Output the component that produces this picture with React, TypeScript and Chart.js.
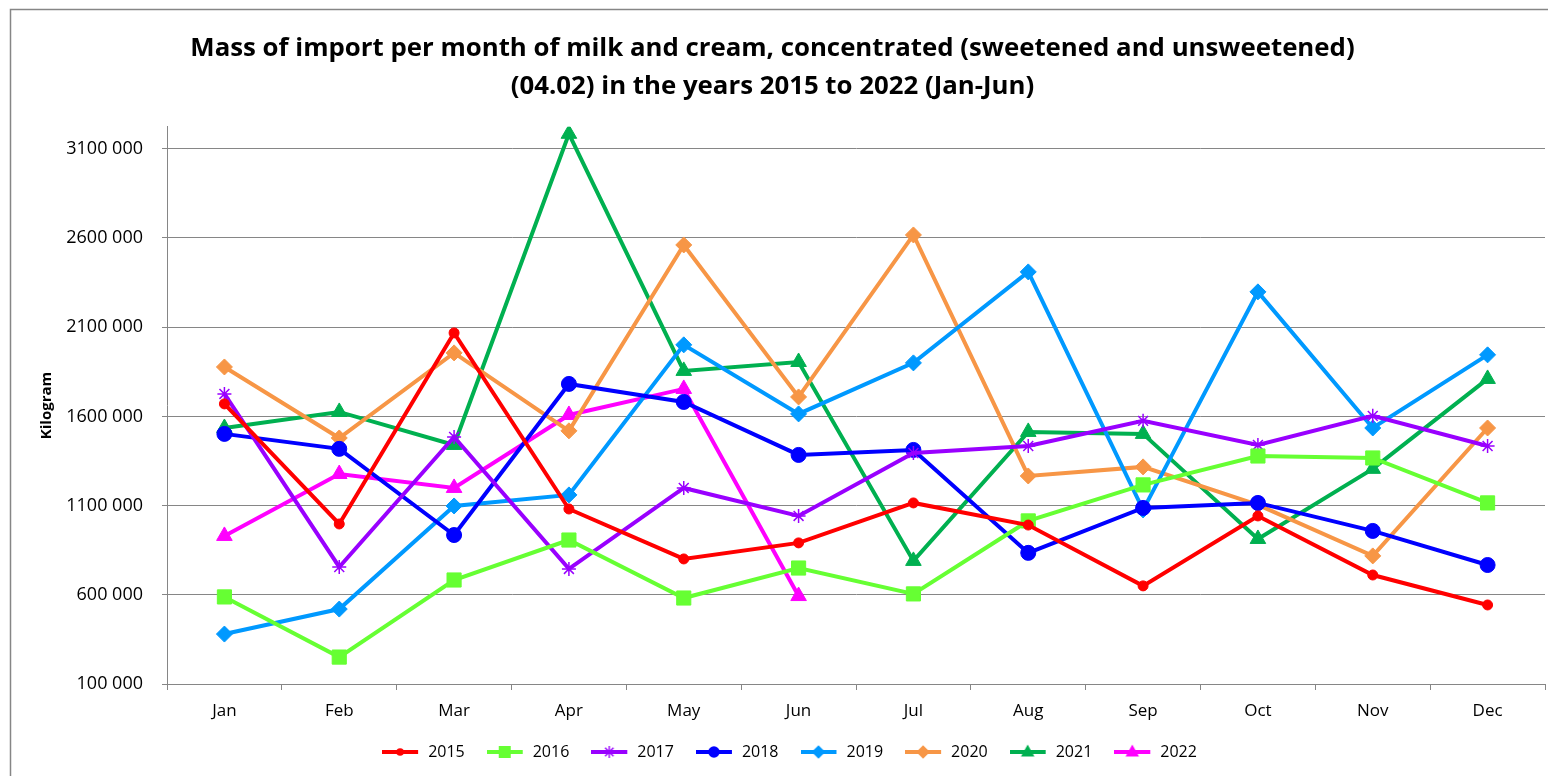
import React, { useEffect, useRef } from "react";
import { Chart, registerables } from "chart.js";

Chart.register(...registerables);

const months = ["Jan", "Feb", "Mar", "Apr", "May", "Jun", "Jul", "Aug", "Sep", "Oct", "Nov", "Dec"];
const yTicks = [100000, 600000, 1100000, 1600000, 2100000, 2600000, 3100000];
const titleLines = [
  "Mass of import per month of milk and cream, concentrated (sweetened and unsweetened)",
  "(04.02) in the years 2015 to 2022 (Jan-Jun)",
];
const yTitle = "Kilogram";

const s2015 = [1670000, 997000, 2068000, 1081000, 801000, 891000, 1115000, 991000, 650000, 1042000, 711000, 543000];
const s2016 = [588000, 251000, 683000, 907000, 582000, 750000, 605000, 1014000, 1216000, 1378000, 1367000, 1115000];
const s2017 = [1726000, 756000, 1485000, 745000, 1199000, 1042000, 1395000, 1434000, 1575000, 1440000, 1603000, 1434000];
const s2018 = [1502000, 1418000, 935000, 1782000, 1681000, 1384000, 1412000, 835000, 1087000, 1115000, 958000, 767000];
const s2019 = [380000, 520000, 1098000, 1160000, 2001000, 1614000, 1900000, 2410000, 1076000, 2298000, 1535000, 1945000];
const s2020 = [1877000, 1479000, 1956000, 1519000, 2561000, 1709000, 2617000, 1266000, 1317000, 1104000, 818000, 1535000];
const s2021 = [1535000, 1625000, 1440000, 3184000, 1855000, 1905000, 790000, 1513000, 1502000, 913000, 1306000, 1810000];
const s2022 = [930000, 1277000, 1199000, 1608000, 1754000, 593000];

const seriesNames = ["2015", "2016", "2017", "2018", "2019", "2020", "2021", "2022"];
const seriesData = [s2015, s2016, s2017, s2018, s2019, s2020, s2021, s2022];
const seriesColors = ["#FF0000", "#66FF33", "#9900FF", "#0000FF", "#0099FF", "#F79646", "#00B050", "#FF00FF"];
const seriesStyles = ["circle", "rect", "star", "circle", "rectRot", "rectRot", "triangle", "triangle"];
const seriesRadius = [5, 10, 7, 7.5, 8, 8, 9, 9];

const ICON_W = 38;

function makeIcon(color: string, style: string, radius: number): HTMLCanvasElement {
  const c = document.createElement("canvas");
  c.width = ICON_W;
  c.height = 18;
  const ctx = c.getContext("2d")!;
  ctx.strokeStyle = color;
  ctx.fillStyle = color;
  ctx.lineWidth = 4;
  ctx.beginPath();
  ctx.moveTo(0, 9);
  ctx.lineTo(ICON_W - 2, 9);
  ctx.stroke();
  const r = Math.min(radius * 0.85, 7.5);
  ctx.beginPath();
  const x = (ICON_W - 2) / 2, y = 9;
  if (style === "circle") {
    ctx.arc(x, y, r * 0.9, 0, Math.PI * 2);
    ctx.fill();
  } else if (style === "rect") {
    const s = r * 0.8;
    ctx.fillRect(x - s, y - s, 2 * s, 2 * s);
  } else if (style === "rectRot") {
    ctx.moveTo(x, y - r);
    ctx.lineTo(x + r, y);
    ctx.lineTo(x, y + r);
    ctx.lineTo(x - r, y);
    ctx.closePath();
    ctx.fill();
  } else if (style === "triangle") {
    ctx.moveTo(x, y - r);
    ctx.lineTo(x + r * 0.9, y + r * 0.6);
    ctx.lineTo(x - r * 0.9, y + r * 0.6);
    ctx.closePath();
    ctx.fill();
  } else if (style === "star") {
    ctx.lineWidth = 1.4;
    for (let k = 0; k < 4; k++) {
      const a = (k * Math.PI) / 4;
      ctx.moveTo(x - Math.sin(a) * r, y - Math.cos(a) * r);
      ctx.lineTo(x + Math.sin(a) * r, y + Math.cos(a) * r);
    }
    ctx.stroke();
  }
  return c;
}

const bgPlugin = {
  id: "bgBorder",
  beforeDraw(chart: any) {
    const ctx = chart.ctx;
    ctx.save();
    ctx.fillStyle = "#ffffff";
    ctx.fillRect(0, 0, chart.width, chart.height);
    ctx.strokeStyle = "#868686";
    ctx.lineWidth = 1.5;
    ctx.strokeRect(10.5, 9.5, chart.width + 10, chart.height + 10);
    ctx.restore();
  },
};

const legendShiftPlugin = {
  id: "legendShift",
  afterLayout(chart: any) {
    const lg = chart.legend;
    if (lg) {
      lg.left += 17;
      lg.right += 17;
    }
  },
};

export default function App() {
  const ref = useRef<HTMLCanvasElement | null>(null);
  useEffect(() => {
    if (!ref.current) return;
    const icons = seriesNames.map((_, i) => makeIcon(seriesColors[i], seriesStyles[i], seriesRadius[i]));
    const chart = new Chart(ref.current, {
      type: "line",
      data: {
        labels: months,
        datasets: seriesNames.map((name, i) => ({
          label: name,
          data: seriesData[i],
          borderColor: seriesColors[i],
          backgroundColor: seriesColors[i],
          borderWidth: 4,
          pointStyle: seriesStyles[i] as any,
          pointRadius: seriesRadius[i],
          pointBorderWidth: seriesStyles[i] === "star" ? 1.5 : 1,
          pointBorderColor: seriesColors[i],
          pointBackgroundColor: seriesColors[i],
          tension: 0,
          fill: false,
        })),
      },
      options: {
        animation: false,
        responsive: true,
        maintainAspectRatio: false,
        layout: { autoPadding: false, padding: { left: 0, right: 3, top: 0, bottom: 6 } },
        plugins: {
          title: {
            display: true,
            text: titleLines,
            color: "#000",
            font: { family: "'Open Sans', sans-serif", size: 25.8, weight: "bold", lineHeight: 1.47 },
            padding: { top: 30, bottom: 21 },
          },
          legend: {
            position: "bottom",
            labels: {
              usePointStyle: true,
              pointStyleWidth: ICON_W,
              color: "#000",
              font: { family: "'Open Sans', sans-serif", size: 16 },
              padding: 22,
              generateLabels: (c: any) => {
                const base = (Chart.defaults.plugins.legend.labels as any).generateLabels(c);
                return base.map((l: any, i: number) => ({ ...l, pointStyle: icons[i] }));
              },
            },
          },
          tooltip: { enabled: false },
        },
        scales: {
          x: {
            type: "category",
            offset: true,
            grid: { offset: true, drawOnChartArea: false, drawTicks: true, tickLength: 6, color: "#868686" },
            border: { color: "#868686", width: 1 },
            ticks: { color: "#000", font: { family: "'Open Sans', sans-serif", size: 17 }, padding: 11, maxRotation: 0 },
            afterFit: (s: any) => {
              s.height = 38;
            },
          },
          y: {
            min: 100000,
            max: 3223000,
            afterBuildTicks: (s: any) => { s.ticks = yTicks.map((v) => ({ value: v })); },
            grid: { color: "#868686", lineWidth: 1, tickLength: 5 },
            border: { color: "#868686", width: 1 },
            ticks: {
              color: "#000",
              font: { family: "'Open Sans', sans-serif", size: 18 },
              padding: 19,
              callback: (v: any) => `${Math.round(Number(v) / 1000)} 000`,
            },
            title: {
              display: true,
              text: yTitle,
              color: "#000",
              font: { family: "'Open Sans', sans-serif", size: 15, weight: "bold" },
              padding: { top: 38, bottom: 4 },
            },
            afterFit: (s: any) => { s.width = 167; },
          },
        },
      },
      plugins: [bgPlugin, legendShiftPlugin],
    });
    return () => chart.destroy();
  }, []);
  return (
    <div style={{ position: "fixed", left: 0, top: 0, width: "1548px", height: "776px" }}>
      <canvas ref={ref} />
    </div>
  );
}
